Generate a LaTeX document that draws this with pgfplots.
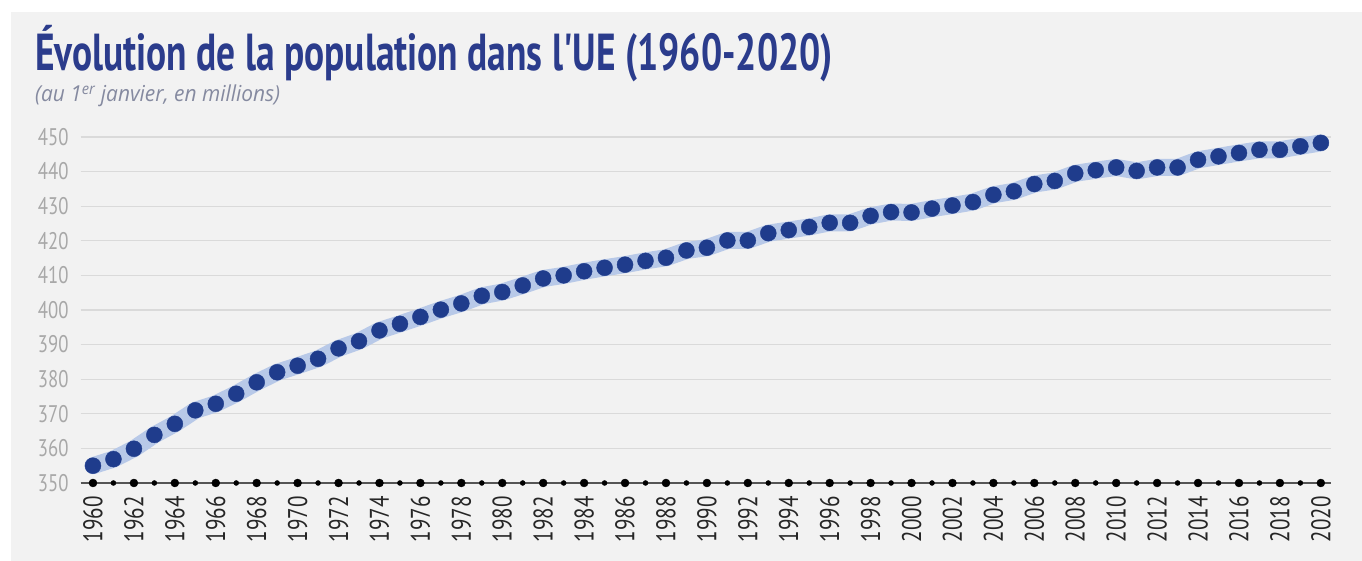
\documentclass[border=0pt]{standalone}
\usepackage{fontspec}
\usepackage{pgfplots}
\usepackage{pgfplotstable}
\pgfplotsset{compat=1.18}
\setmainfont{PT Sans}
\newfontfamily\titlefont[FakeStretch=0.72]{PT Sans}
\newfontfamily\subfont[FakeStretch=0.95]{Open Sans}
\newfontfamily\tickfont[FakeStretch=0.78]{PT Sans}
\definecolor{bg}{HTML}{F2F2F2}
\definecolor{titleblue}{HTML}{2B3C8C}
\definecolor{dotblue}{HTML}{1F3C8C}
\definecolor{band}{HTML}{B8C9E8}
\definecolor{gridc}{HTML}{DADADA}
\definecolor{ylab}{HTML}{A8A8A8}
\definecolor{xlab}{HTML}{262626}
\definecolor{subc}{HTML}{858AA0}
\definecolor{axisc}{HTML}{555555}
\pgfplotstableread{
year pop
1960 355.0
1961 356.9
1962 359.9
1963 363.9
1964 367.1
1965 371.0
1966 372.9
1967 375.8
1968 379.1
1969 382.0
1970 383.9
1971 385.9
1972 388.9
1973 391.0
1974 394.1
1975 396.0
1976 398.0
1977 400.1
1978 401.9
1979 404.1
1980 405.2
1981 407.1
1982 409.1
1983 410.0
1984 411.2
1985 412.2
1986 413.1
1987 414.2
1988 415.1
1989 417.2
1990 418.0
1991 420.1
1992 420.1
1993 422.2
1994 423.1
1995 424.0
1996 425.2
1997 425.2
1998 427.2
1999 428.3
2000 428.2
2001 429.3
2002 430.2
2003 431.2
2004 433.3
2005 434.3
2006 436.4
2007 437.3
2008 439.5
2009 440.4
2010 441.2
2011 440.2
2012 441.2
2013 441.2
2014 443.4
2015 444.4
2016 445.4
2017 446.3
2018 446.3
2019 447.3
2020 448.3
}\popdata
\begin{document}
\begin{tikzpicture}
\path[use as bounding box] (0,0) rectangle (1362pt,561pt);
\fill[white] (0,0) rectangle (1362pt,561pt);
\fill[bg] (11pt,0) rectangle (1362pt,549pt);
\node[anchor=base west, inner sep=0pt, text=titleblue] at (35pt,490pt)
  {\titlefont\bfseries\fontsize{52}{54}\selectfont Évolution de la population dans l'UE (1960-2020)};
\node[anchor=base west, inner sep=0pt, text=subc] at (35pt,459pt)
  {\subfont\itshape\fontsize{22}{24}\selectfont (au 1\textsuperscript{er} janvier, en millions)};
\begin{axis}[
  at={(80.7pt,78pt)}, anchor=south west,
  scale only axis, width=1250.3pt, height=346pt,
  xmin=1959.4, xmax=2020.5, ymin=350, ymax=450,
  axis line style={draw=none},
  clip=false,
  ytick={350,360,...,450},
  xtick={1960,1962,...,2020},
  major tick length=0pt,
  ymajorgrids, major grid style={gridc, line width=1.2pt},
  /pgf/number format/assume math mode=true,
  /pgf/number format/1000 sep={},
  yticklabel style={font=\tickfont\fontsize{24}{26}\selectfont, text=ylab, anchor=east, inner sep=0pt},
  yticklabel shift={12pt},
  xticklabel style={font=\tickfont\fontsize{27}{29}\selectfont, text=xlab, rotate=90, anchor=east, inner sep=0pt},
  xticklabel shift={13pt},
]
\addplot[axisc, line width=2pt] coordinates {(1959.4,350) (2020.5,350)};
\addplot[only marks, mark=*, mark size=4pt, black] coordinates {
(1960,350)(1962,350)(1964,350)(1966,350)(1968,350)(1970,350)(1972,350)(1974,350)
(1976,350)(1978,350)(1980,350)(1982,350)(1984,350)(1986,350)(1988,350)(1990,350)
(1992,350)(1994,350)(1996,350)(1998,350)(2000,350)(2002,350)(2004,350)(2006,350)
(2008,350)(2010,350)(2012,350)(2014,350)(2016,350)(2018,350)(2020,350)};
\addplot[only marks, mark=*, mark size=2.5pt, black] coordinates {
(1961,350)(1963,350)(1965,350)(1967,350)(1969,350)(1971,350)(1973,350)(1975,350)
(1977,350)(1979,350)(1981,350)(1983,350)(1985,350)(1987,350)(1989,350)(1991,350)
(1993,350)(1995,350)(1997,350)(1999,350)(2001,350)(2003,350)(2005,350)(2007,350)
(2009,350)(2011,350)(2013,350)(2015,350)(2017,350)(2019,350)};
\addplot[band, line width=17pt, line join=round, line cap=round] table[x=year,y=pop] {\popdata};
\addplot[only marks, mark=*, mark size=8pt, dotblue] table[x=year,y=pop] {\popdata};
\end{axis}
\end{tikzpicture}
\end{document}
